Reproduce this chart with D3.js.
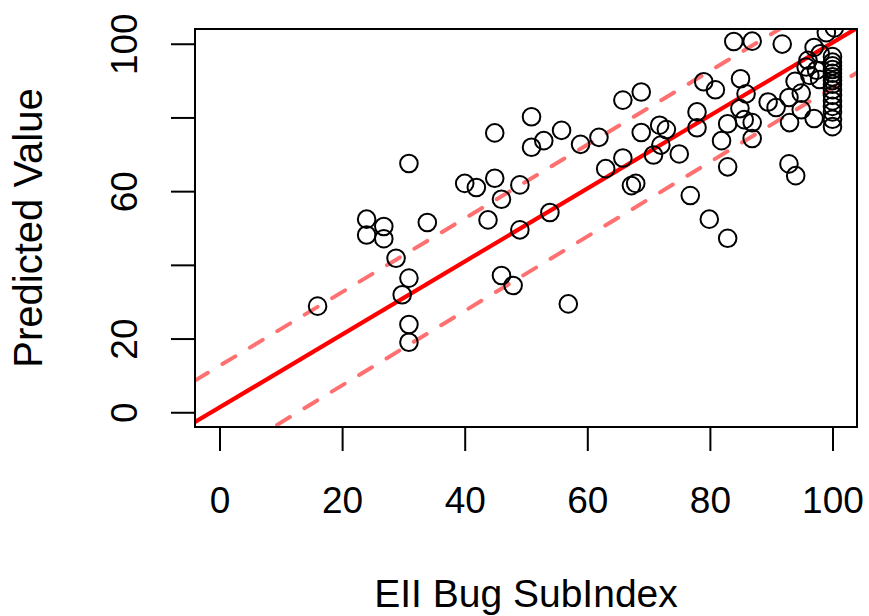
<!DOCTYPE html>
<html lang="en">
<head>
    <meta charset="UTF-8">
    <title>Predicted Value vs EII Bug SubIndex</title>
    <script src="https://cdnjs.cloudflare.com/ajax/libs/d3/7.8.5/d3.min.js"></script>
    <style>
      body { margin: 0; background: #fff; }
      svg text { font-family: "Liberation Sans", Arial, sans-serif; fill: #000; }
    </style>
</head>
<body>
    <div id="chart"></div>

    <script>
        const subIndex = [
          16, 24, 24, 26.8, 26.8, 28.8, 29.8, 30.9, 30.9, 30.9, 30.9, 33.9,
          40, 41.9, 44.9, 44.9, 46, 43.8, 49, 49, 53.9, 46, 47.9, 56.9,
          50.9, 50.9, 52.9, 55.8, 58.9, 61.9, 65.8, 63, 65.8, 67.2, 67.9,
          68.8, 68.8, 71.8, 72.9, 72, 70.8, 75, 77.9, 77.9, 76.8,
          79, 80.9, 79.9, 82.9, 83.9, 86.9, 91.8, 85, 85.9, 84.9, 82.9,
          85.6, 86.9, 81.9, 86.9, 82.9, 89.5, 90.8, 92.9, 93.9, 94.9, 93,
          94.9, 92.9, 94, 97, 97, 96, 95.7, 97.4, 96.3, 97.9, 98, 99, 100.3,
          100, 100, 100, 100, 100, 100, 100, 100, 100, 100, 100, 100, 100, 100, 100
        ];
        const predicted = [
          28.8, 52.4, 48.1, 50.4, 47.1, 41.8, 31.9, 67.5, 36.4, 23.8, 19.0, 51.5,
          62.1, 61.0, 75.8, 63.5, 57.8, 52.2, 61.7, 49.5, 54.2, 37.1, 34.4, 29.4,
          80.2, 71.9, 73.7, 76.5, 72.7, 74.6, 84.7, 66.1, 69.0, 61.5, 62.1,
          86.9, 75.9, 77.9, 76.7, 72.5, 69.8, 70.1, 81.5, 77.2, 58.8,
          89.7, 87.5, 52.4, 47.2, 100.6, 100.7, 99.9, 90.5, 86.4, 82.4, 78.3,
          79.4, 78.6, 73.7, 74.3, 66.6, 84.2, 82.7, 85.4, 89.8, 86.6, 78.6,
          82.1, 67.4, 64.2, 99, 79.7, 95.5, 93.7, 92.8, 91.4, 90.3, 97.3, 103, 104.3,
          77.5, 79.5, 81.5, 83, 84.5, 86, 87.5, 89, 90, 91, 92, 93, 94, 95, 96.5
        ];

        // fitted line and band lines: [intercept, slope]
        const fitLine = [1.3, 0.99];
        const upperBand = [12.6, 1.0];
        const lowerBand = [-12.9, 1.01];

        const xTicks = [0, 20, 40, 60, 80, 100];
        const xTickLabels = ["0", "20", "40", "60", "80", "100"];
        const yTicks = [0, 20, 40, 60, 80, 100];
        const yTickLabels = ["0", "20", "", "60", "", "100"];

        const width = 869;
        const height = 616;

        const x = d3.scaleLinear().domain([-4, 104]).range([195, 857]);
        const y = d3.scaleLinear().domain([-4, 104]).range([427, 29]);

        const svg = d3.select('#chart')
          .append('svg')
          .attr('width', width)
          .attr('height', height);

        svg.append('clipPath').attr('id', 'plot-clip')
          .append('rect')
          .attr('x', x.range()[0]).attr('y', y.range()[1])
          .attr('width', x.range()[1] - x.range()[0])
          .attr('height', y.range()[0] - y.range()[1]);

        const plot = svg.append('g').attr('clip-path', 'url(#plot-clip)');

        // straight lines across the whole x domain
        function drawLine(coef, color, dashed) {
          const [x0, x1] = x.domain();
          plot.append('line')
            .attr('x1', x(x0)).attr('y1', y(coef[0] + coef[1] * x0))
            .attr('x2', x(x1)).attr('y2', y(coef[0] + coef[1] * x1))
            .attr('stroke', color)
            .attr('stroke-width', dashed ? 4 : 4.2)
            .attr('stroke-linecap', dashed ? 'round' : 'butt')
            .attr('stroke-dasharray', dashed ? '15,17' : null);
        }
        drawLine(upperBand, '#ff7070', true);
        drawLine(lowerBand, '#ff7070', true);
        drawLine(fitLine, '#ff0000', false);

        const points = subIndex.map((d, i) => ({x: d, y: predicted[i]}));
        plot.selectAll('circle')
          .data(points)
          .join('circle')
          .attr('cx', d => x(d.x))
          .attr('cy', d => y(d.y))
          .attr('r', 8.8)
          .attr('fill', 'none')
          .attr('stroke', '#000')
          .attr('stroke-width', 2);

        // x axis
        const xAxis = svg.append('g')
          .attr('transform', `translate(0,${y.range()[0]})`)
          .call(d3.axisBottom(x)
            .tickValues(xTicks)
            .tickFormat((d, i) => xTickLabels[i])
            .tickSize(24)
            .tickPadding(36));
        xAxis.select('.domain').remove();
        xAxis.selectAll('line').attr('stroke', '#000').attr('stroke-width', 2);
        xAxis.selectAll('text')
          .attr('font-size', 37)
          .attr('font-family', '"Liberation Sans", Arial, sans-serif')
          .attr('fill', '#000');

        // y axis, labels rotated like R's default
        const yAxis = svg.append('g')
          .attr('transform', `translate(${x.range()[0]},0)`)
          .call(d3.axisLeft(y)
            .tickValues(yTicks)
            .tickFormat((d, i) => yTickLabels[i])
            .tickSize(24));
        yAxis.select('.domain').remove();
        yAxis.selectAll('line').attr('stroke', '#000').attr('stroke-width', 2);
        yAxis.selectAll('text')
          .attr('transform', 'rotate(-90)')
          .attr('x', 0)
          .attr('y', -58)
          .attr('dy', null)
          .attr('text-anchor', 'middle')
          .attr('font-size', 37)
          .attr('font-family', '"Liberation Sans", Arial, sans-serif')
          .attr('fill', '#000');

        // box around plot region
        svg.append('rect')
          .attr('x', x.range()[0]).attr('y', y.range()[1])
          .attr('width', x.range()[1] - x.range()[0])
          .attr('height', y.range()[0] - y.range()[1])
          .attr('fill', 'none')
          .attr('stroke', '#000')
          .attr('stroke-width', 2);

        // axis titles
        svg.append('text')
          .attr('x', (x.range()[0] + x.range()[1]) / 2)
          .attr('y', 607)
          .attr('text-anchor', 'middle')
          .attr('font-size', 39)
          .text('EII Bug SubIndex');

        svg.append('text')
          .attr('transform', `translate(42,${(y.range()[0] + y.range()[1]) / 2}) rotate(-90)`)
          .attr('text-anchor', 'middle')
          .attr('font-size', 40)
          .text('Predicted Value');
    </script>
</body>
</html>
